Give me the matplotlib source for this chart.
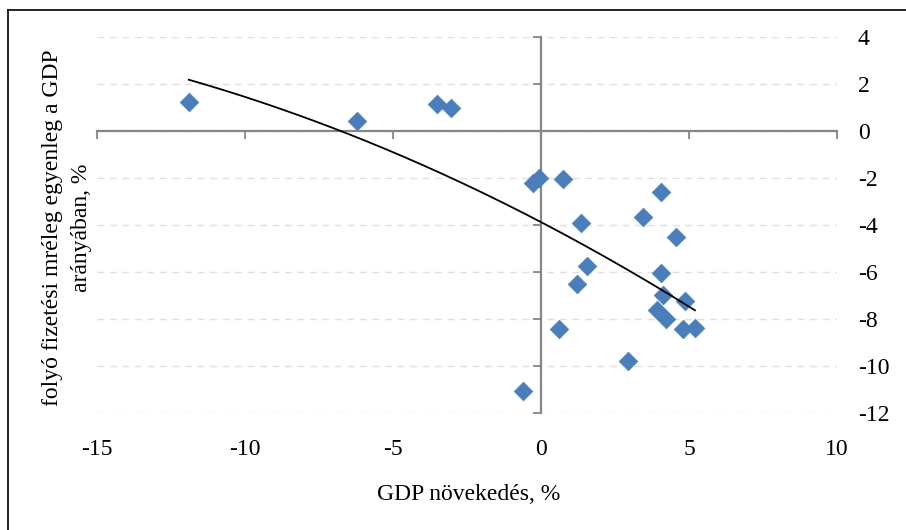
import numpy as np
import matplotlib.pyplot as plt
from matplotlib.lines import Line2D

# GDP növekedés (%) és folyó fizetési mérleg egyenleg (% GDP)
gdp_growth = [-11.9, -6.2, -3.5, -3.05, -0.27, -0.07, 0.74, 1.35, 3.45, 4.05,
              4.56, 1.55, 1.22, 4.05, 4.12, 4.86, 3.92, 4.22, 4.8, 5.2,
              0.61, 2.94, -0.6]
current_account = [1.23, 0.43, 1.15, 0.98, -2.2, -2.0, -2.04, -3.91, -3.66, -2.6,
                   -4.5, -5.74, -6.5, -6.04, -6.98, -7.25, -7.6, -8.0, -8.43, -8.38,
                   -8.43, -9.8, -11.06]

x_ticks = [-15, -10, -5, 0, 5, 10]
y_ticks = [4, 2, 0, -2, -4, -6, -8, -10, -12]

plt.rcParams['font.family'] = ['Liberation Serif', 'DejaVu Serif']
plt.rcParams['axes.unicode_minus'] = False
fs = 17
axis_gray = '#868686'

fig = plt.figure(figsize=(9.06, 5.30), dpi=100)
ax = fig.add_axes([97 / 906, 1 - 413 / 530, 740 / 906, 376 / 530])

ax.set_xlim(-15, 10)
ax.set_ylim(-12, 4)

# rácsvonalak
for yv in y_ticks:
    ax.axhline(yv, color='#e0e0e0', lw=1, ls=(0, (5, 4)), zorder=0)

# tengelyek a nullánál
for s in ['top', 'right']:
    ax.spines[s].set_visible(False)
for s in ['left', 'bottom']:
    ax.spines[s].set_position(('data', 0))
    ax.spines[s].set_color(axis_gray)
    ax.spines[s].set_linewidth(1.6)
    ax.spines[s].set_zorder(1)
ax.set_xticks(x_ticks)
ax.set_yticks(y_ticks)
ax.tick_params(axis='both', direction='out', length=6, width=1.3, color=axis_gray,
               labelbottom=False, labelleft=False)

# feliratok a szélen
secx = ax.secondary_xaxis('bottom')
secx.set_xticks(x_ticks)
secx.tick_params(length=0, pad=19, labelsize=fs)
secx.spines['bottom'].set_visible(False)
secy = ax.secondary_yaxis('right')
secy.set_yticks(y_ticks)
secy.tick_params(length=0, pad=15, labelsize=fs)
secy.spines['right'].set_visible(False)

ax.scatter(gdp_growth, current_account, marker='D', s=90, color='#4a7ebb',
           edgecolor='#4a7ebb', linewidth=0.5, zorder=3)

# másodfokú trendvonal
coef = np.polyfit(gdp_growth, current_account, 2)
xt = np.linspace(min(gdp_growth), max(gdp_growth), 200)
ax.plot(xt, np.polyval(coef, xt), color='black', lw=1.3, zorder=4)

fig.text(469 / 906, 1 - 494 / 530, 'GDP növekedés, %', ha='center', va='center', fontsize=fs)
fig.text(67 / 906, 1 - 228 / 530, 'folyó fizetési mréleg egyenleg a GDP\narányában, %',
         ha='center', va='center', rotation=90, fontsize=fs, linespacing=1.45)

# keret
fig.add_artist(Line2D([8 / 906, 8 / 906], [0, 1 - 10 / 530], color='black', lw=1.2,
                      transform=fig.transFigure))
fig.add_artist(Line2D([8 / 906, 1], [1 - 10 / 530, 1 - 10 / 530], color='black', lw=1.2,
                      transform=fig.transFigure))

fig.savefig('out.png', dpi=100)
